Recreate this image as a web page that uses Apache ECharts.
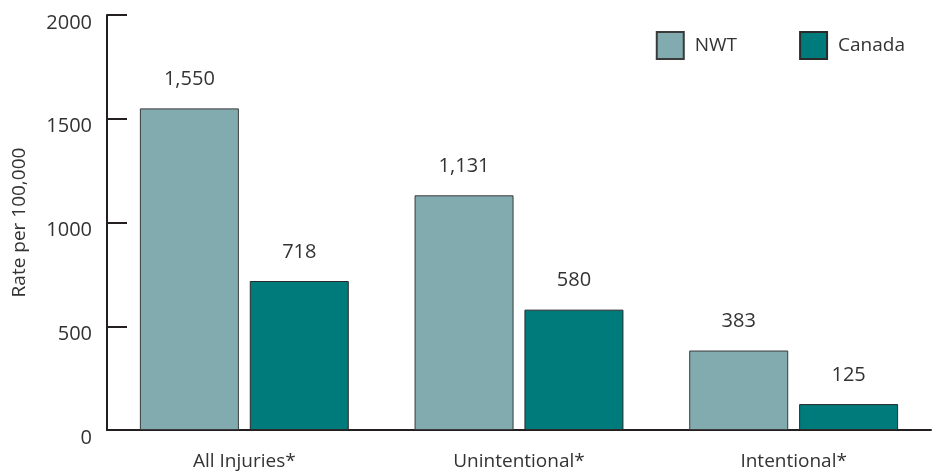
<!DOCTYPE html>
<html>
<head>
<meta charset="utf-8">
<script src="https://cdn.jsdelivr.net/npm/echarts@6/dist/echarts.min.js"></script>
<style>
  html, body { margin: 0; padding: 0; background: #fff; }
  #chart { width: 938px; height: 471px; }
</style>
</head>
<body>
<div id="chart"></div>
<script>
const categories = ['All Injuries*', 'Unintentional*', 'Intentional*']
const nwtValues = [1550, 1131, 383]
const canadaValues = [718, 580, 125]
const yTicks = [0, 500, 1000, 1500, 2000]

const fontFamily = '"Open Sans", "Noto Sans", sans-serif'
const axisColor = '#231f20'
const textColor = '#333333'

const chart = echarts.init(document.getElementById('chart'))

function barLabel() {
  return {
    show: true,
    position: 'top',
    distance: 19,
    fontSize: 20,
    fontFamily,
    color: textColor,
    formatter: p => p.value.toLocaleString('en-US')
  }
}

chart.setOption({
  animation: false,
  textStyle: { fontFamily },
  grid: { left: 107, right: 7, top: 15, bottom: 39 },
  legend: {
    right: 28,
    top: 26,
    itemWidth: 27,
    itemHeight: 27,
    itemGap: 62,
    icon: 'rect',
    textStyle: { fontSize: 19, color: textColor, fontFamily, padding: [0, 0, 0, 6] },
    data: ['NWT', 'Canada']
  },
  xAxis: {
    type: 'category',
    data: categories,
    axisLine: { lineStyle: { color: axisColor, width: 2 } },
    axisTick: { inside: true, length: 8, lineStyle: { color: axisColor, width: 2 } },
    axisLabel: { fontSize: 19, color: textColor, margin: 22, fontFamily }
  },
  yAxis: {
    type: 'value',
    min: yTicks[0],
    max: yTicks[yTicks.length - 1],
    interval: 500,
    name: 'Rate per 100,000',
    nameLocation: 'middle',
    nameGap: 78,
    nameTextStyle: { fontSize: 19, color: textColor, fontFamily },
    axisLine: { show: true, lineStyle: { color: axisColor, width: 2 } },
    axisTick: { show: true, inside: true, length: 20, lineStyle: { color: axisColor, width: 2 } },
    axisLabel: {
      fontSize: 20, color: textColor, margin: 15, fontFamily,
      verticalAlign: 'top', lineHeight: 16,
      formatter: v => String(v)
    },
    splitLine: { show: false }
  },
  series: [{
    name: 'NWT',
    type: 'bar',
    data: nwtValues,
    barWidth: 99,
    barGap: '11%',
    itemStyle: { color: '#82abb0', borderColor: '#3a3a3a', borderWidth: 1 },
    label: barLabel()
  }, {
    name: 'Canada',
    type: 'bar',
    data: canadaValues,
    barWidth: 99,
    itemStyle: { color: '#007b7b', borderColor: '#2a2a2a', borderWidth: 1 },
    label: barLabel()
  }]
})
</script>
</body>
</html>
